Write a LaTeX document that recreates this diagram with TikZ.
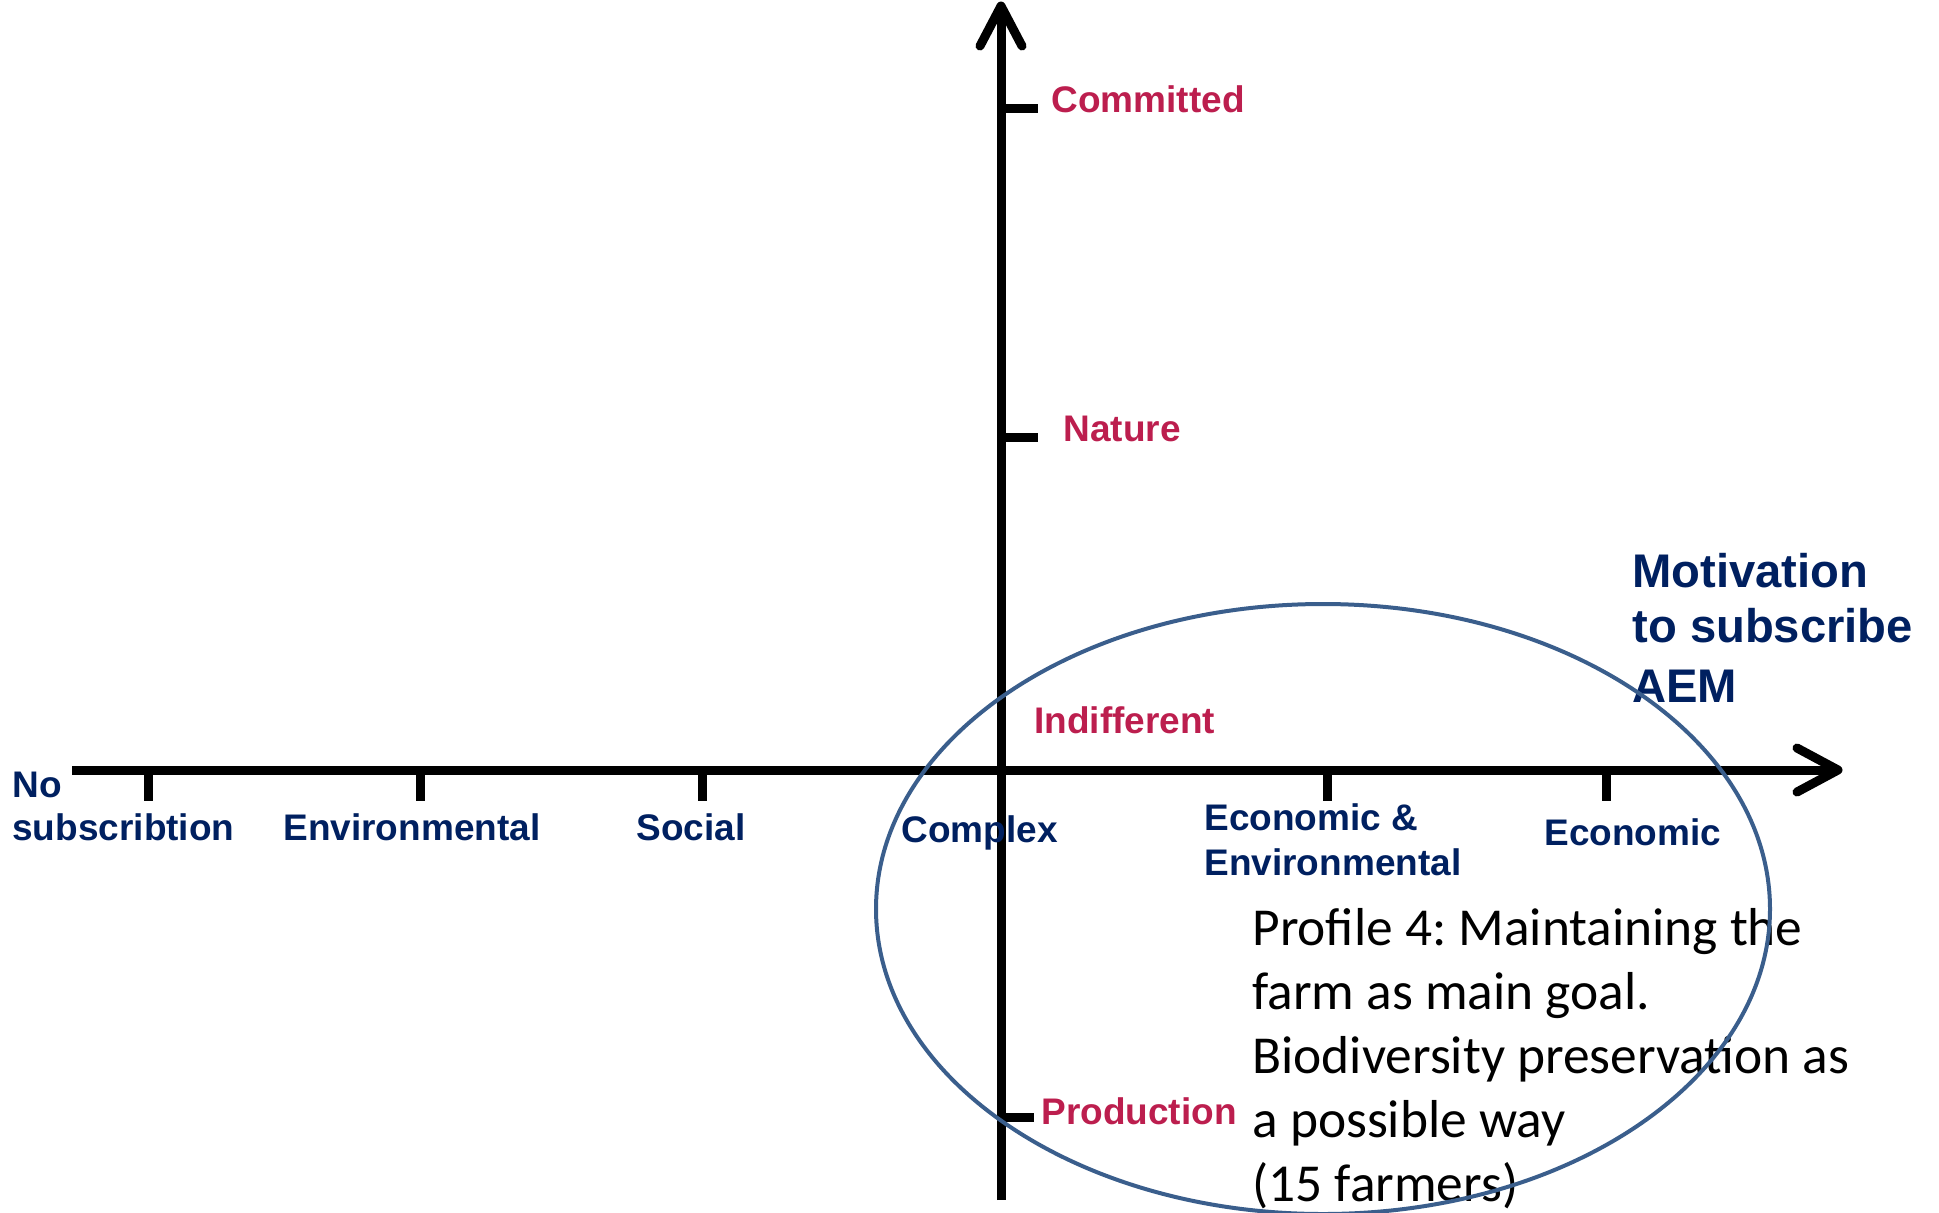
\documentclass[tikz,border=0pt]{standalone}
\usepackage{fontspec}
\setmainfont{Liberation Sans}
\newfontfamily\calibfont{Carlito}
\usetikzlibrary{shapes.geometric}
\definecolor{navy}{RGB}{0,32,96}
\definecolor{crim}{RGB}{188,30,78}
\definecolor{ellblue}{RGB}{58,94,140}
\frenchspacing
\begin{document}
\begin{tikzpicture}[x=0.5pt,y=-0.5pt,
  axisline/.style={line width=4.5pt,black},
  arrowhd/.style={line width=4.5pt,black,line cap=round,line join=round},
  tickmark/.style={line width=4.5pt,black},
  lab/.style={inner sep=0pt,anchor=base west,font=\bfseries\fontsize{18.5pt}{22pt}\selectfont},
  ylab/.style={lab,text=crim},
  xlab/.style={lab,text=navy},
  titlelab/.style={inner sep=0pt,anchor=base west,text=navy,font=\bfseries\fontsize{23.6pt}{28pt}\selectfont},
  proflab/.style={inner sep=0pt,anchor=base west,text=black,font=\calibfont\fontsize{26.7pt}{32pt}\selectfont},
  ellshape/.style={ellipse,draw=ellblue,line width=2pt,inner sep=0pt}
]
\useasboundingbox (0,0) rectangle (1939,1212);
\clip (0,0) rectangle (1939,1212);
% axes
\coordinate (xstart) at (72,770);
\coordinate (xend) at (1834,770);
\coordinate (xtip) at (1838,770);
\coordinate (ystart) at (1001,1200);
\coordinate (yend) at (1001,10);
\coordinate (ytip) at (1001,6);
\draw[axisline] (xstart) -- (xend);
\draw[axisline] (ystart) -- (yend);
\draw[arrowhd] (1797,748) -- (xtip) -- (1797,792);
\draw[arrowhd] (980,46) -- (ytip) -- (1022,46);
% x ticks
\foreach \xx/\nm in {148/a,420/b,702/c,1327/d,1606/e}{
  \coordinate (xt\nm) at (\xx,770);
  \coordinate (xb\nm) at (\xx,801);
  \draw[tickmark] (xt\nm) -- (xb\nm);
}
% y ticks
\coordinate (yt1) at (1001,108); \coordinate (yb1) at (1038,108);
\coordinate (yt2) at (1001,437); \coordinate (yb2) at (1038,437);
\coordinate (yt3) at (1001,1117); \coordinate (yb3) at (1034,1117);
\draw[tickmark] (yt1) -- (yb1);
\draw[tickmark] (yt2) -- (yb2);
\draw[tickmark] (yt3) -- (yb3);
% y labels
\node[ylab] (committed) at (1051,112) {Committed};
\node[ylab] (nature) at (1063,441) {Nature};
\node[ylab] (indiff) at (1034,733) {Indifferent};
\node[ylab] (prod) at (1041,1124) {Production};
% x labels
\node[xlab] (no1) at (12,797) {No};
\node[xlab] (no2) at (12,840) {subscribtion};
\node[xlab] (env) at (283,840) {Environmental};
\node[xlab] (soc) at (636,840) {Social};
\node[xlab] (comp) at (901,842) {Complex};
\node[xlab] (ee1) at (1204,830) {Economic \&};
\node[xlab] (ee2) at (1204,875) {Environmental};
\node[xlab] (eco) at (1544,845) {Economic};
% axis title
\node[titlelab] (mot1) at (1632,587) {Motivation};
\node[titlelab] (mot2) at (1632,642) {to subscribe};
\node[titlelab] (mot3) at (1632,702) {AEM};
% profile text
\node[proflab] (p1) at (1252,945) {Profile 4: Maintaining the};
\node[proflab] (p2) at (1252,1009) {farm as main goal.};
\node[proflab] (p3) at (1252,1073) {Biodiversity preservation as};
\node[proflab] (p4) at (1252,1137) {a possible way};
\node[proflab] (p5) at (1252,1201) {(15 farmers)};
% ellipse
\node[ellshape,minimum width=447pt,minimum height=305pt] (ell) at (1323,909) {};
\end{tikzpicture}
\end{document}
